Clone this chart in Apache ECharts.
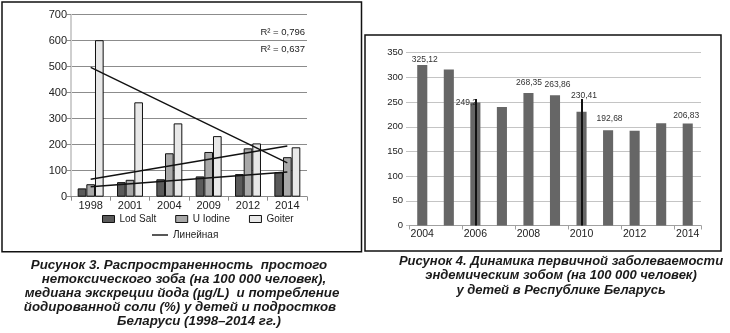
<!DOCTYPE html>
<html>
<head>
<meta charset="utf-8">
<script src="https://cdn.jsdelivr.net/npm/echarts@6/dist/echarts.min.js"></script>
<style>
  html, body { margin: 0; padding: 0; background: #fff; }
  #chart { width: 730px; height: 333px; }
</style>
</head>
<body>
<div id="chart"></div>
<script>
// Figure 3: goiter prevalence, iodine excretion and iodized salt use
const years = ['1998', '2001', '2004', '2009', '2012', '2014'];
const iodSalt = [32, 56, 67, 78, 87, 94];
const uIodine = [48, 65, 167, 172, 186, 152];
const goiter = [602, 363, 282, 233, 205, 190];
// linear trend lines: values at the first and last year
const goiterTrendEnds = [497, 130];
const iodineTrendEnds = [67, 195];
const saltTrendEnds = [38, 95];
const rSquared = ['R\u00B2 = 0,796', 'R\u00B2 = 0,637'];
const leftTicks = [0, 700, 100];

// Figure 4: primary incidence of endemic goiter in children
const incYears = ['2004', '2005', '2006', '2007', '2008', '2009', '2010', '2011', '2012', '2013', '2014'];
const incidence = [325.12, 316, 249.2, 240, 268.35, 263.86, 230.41, 192.68, 192, 207, 206.83];
const labeledYears = ['2004', '2006', '2008', '2009', '2010', '2011', '2014'];
const markerYears = ['2006', '2010'];
const markerTop = 256;
const rightTicks = [0, 350, 50];

const captionLeft = [
  'Рисунок 3. Распространенность  простого',
  'нетоксического зоба (на 100 000 человек),',
  'медиана экскреции йода (µg/L)  и потребление',
  'йодированной соли (%) у детей и подростков',
  'Беларуси (1998–2014 гг.)'
];
const captionRight = [
  'Рисунок 4. Динамика первичной заболеваемости',
  'эндемическим зобом (на 100 000 человек)',
  'у детей в Республике Беларусь'
];

// label nudges for the incidence bars (dx, dy in px)
const labelNudge = {
  '2004': [2.5, 0], '2006': [-9, 6], '2008': [0.5, -4.5], '2009': [2.5, -5],
  '2010': [2.5, -11], '2011': [1.5, -6], '2014': [-1.5, -2.5]
};

const FONT = '"Liberation Sans", Arial, sans-serif';

function trendData(ends) {
  return years.map((y, i) => i === 0 ? ends[0] : (i === years.length - 1 ? ends[1] : null));
}
function fmtComma(v) { return String(v).replace('.', ','); }

const chart = echarts.init(document.getElementById('chart'), null, { renderer: 'canvas' });

const barBorder = { borderColor: '#111', borderWidth: 1 };

const graphics = [
  { type: 'rect', shape: { x: 2, y: 2, width: 359.5, height: 249.7 }, style: { fill: 'none', stroke: '#111', lineWidth: 1.5 }, z: 100 },
  { type: 'rect', shape: { x: 365, y: 35, width: 356, height: 216 }, style: { fill: 'none', stroke: '#111', lineWidth: 1.5 }, z: 100 }
];
rSquared.forEach((t, i) => {
  graphics.push({
    type: 'text', x: 305, y: 32.5 + i * 17,
    style: { text: t, fill: '#222', font: '9.5px ' + FONT, textAlign: 'right', textVerticalAlign: 'middle' }
  });
});

const capFontLeft = 'italic bold 13.3px ' + FONT;
const capFontRight = 'italic bold 13px ' + FONT;
const capLeftX = [179, 184, 182, 180, 199];
captionLeft.forEach((t, i) => {
  graphics.push({
    type: 'text', x: capLeftX[i], y: 265 + i * 14.2,
    style: { text: t, fill: '#1a1a1a', font: capFontLeft, textAlign: 'center', textVerticalAlign: 'middle' }
  });
});
captionRight.forEach((t, i) => {
  graphics.push({
    type: 'text', x: 561, y: 261.7 + i * 14.2,
    style: { text: t, fill: '#1a1a1a', font: capFontRight, textAlign: 'center', textVerticalAlign: 'middle' }
  });
});

const option = {
  backgroundColor: '#fff',
  animation: false,
  textStyle: { fontFamily: FONT },
  grid: [
    { left: 71, top: 14.7, right: 730 - 307, bottom: 333 - 196.7 },
    { left: 409, top: 52.7, right: 730 - 701, bottom: 333 - 225.5 }
  ],
  legend: [
    {
      left: 102, top: 214, padding: 0, itemWidth: 12, itemHeight: 7, itemGap: 19,
      textStyle: { fontSize: 10, color: '#222', fontFamily: FONT },
      data: [
        { name: 'Lod Salt', icon: 'rect', itemStyle: { color: '#5a5a5a', borderColor: '#111', borderWidth: 1 } },
        { name: 'U Iodine', icon: 'rect', itemStyle: { color: '#a8a8a8', borderColor: '#111', borderWidth: 1 } },
        { name: 'Goiter', icon: 'rect', itemStyle: { color: '#e8e8e8', borderColor: '#111', borderWidth: 1 } }
      ],
      selectedMode: false
    },
    {
      left: 152, top: 230, padding: 0, itemWidth: 16, itemHeight: 1.4,
      textStyle: { fontSize: 10, color: '#222', fontFamily: FONT },
      data: [{ name: 'Линейная', icon: 'rect', itemStyle: { color: '#111', borderWidth: 0 } }],
      selectedMode: false
    }
  ],
  xAxis: [
    {
      type: 'category', gridIndex: 0, data: years,
      axisLine: { lineStyle: { color: '#8c8c8c', width: 1 } },
      axisTick: { show: true, length: 4, lineStyle: { color: '#8c8c8c' } },
      axisLabel: { fontSize: 11, color: '#222', margin: 4, fontFamily: FONT }
    },
    {
      type: 'category', gridIndex: 1, data: incYears,
      axisLine: { lineStyle: { color: '#a0a0a0', width: 1 } },
      axisTick: { show: true, length: 4, interval: 1, lineStyle: { color: '#a0a0a0' } },
      axisLabel: { fontSize: 10.5, color: '#222', margin: 3, interval: 1, fontFamily: FONT }
    }
  ],
  yAxis: [
    {
      type: 'value', gridIndex: 0, min: leftTicks[0], max: leftTicks[1], interval: leftTicks[2],
      axisLine: { show: true, lineStyle: { color: '#cfcfcf', width: 2 } },
      axisTick: { show: true, length: 4, lineStyle: { color: '#8c8c8c' } },
      splitLine: { lineStyle: { color: '#8c8c8c', width: 1 } },
      axisLabel: { fontSize: 11, color: '#222', margin: 4, fontFamily: FONT }
    },
    {
      type: 'value', gridIndex: 1, min: rightTicks[0], max: rightTicks[1], interval: rightTicks[2],
      axisLine: { show: false },
      axisTick: { show: true, length: 3, lineStyle: { color: '#c4c4c4' } },
      splitLine: { lineStyle: { color: '#c4c4c4', width: 1 } },
      axisLabel: { fontSize: 9.5, color: '#222', margin: 6, fontFamily: FONT }
    }
  ],
  series: [
    {
      name: 'Lod Salt', type: 'bar', xAxisIndex: 0, yAxisIndex: 0, data: iodSalt,
      barGap: '0%', barCategoryGap: '34%',
      itemStyle: Object.assign({ color: '#5a5a5a' }, barBorder)
    },
    {
      name: 'U Iodine', type: 'bar', xAxisIndex: 0, yAxisIndex: 0, data: uIodine,
      barGap: '0%', barCategoryGap: '34%',
      itemStyle: Object.assign({ color: '#a8a8a8' }, barBorder)
    },
    {
      name: 'Goiter', type: 'bar', xAxisIndex: 0, yAxisIndex: 0, data: goiter,
      barGap: '0%', barCategoryGap: '34%',
      itemStyle: Object.assign({ color: '#e8e8e8' }, barBorder)
    },
    {
      name: 'Линейная', type: 'line', xAxisIndex: 0, yAxisIndex: 0, data: trendData(goiterTrendEnds),
      connectNulls: true, symbol: 'none', lineStyle: { color: '#111', width: 1.4 }, itemStyle: { color: '#111' }, z: 5
    },
    {
      name: 'Линейная', type: 'line', xAxisIndex: 0, yAxisIndex: 0, data: trendData(iodineTrendEnds),
      connectNulls: true, symbol: 'none', lineStyle: { color: '#111', width: 1.4 }, itemStyle: { color: '#111' }, z: 5
    },
    {
      name: 'Линейная', type: 'line', xAxisIndex: 0, yAxisIndex: 0, data: trendData(saltTrendEnds),
      connectNulls: true, symbol: 'none', lineStyle: { color: '#111', width: 1.4 }, itemStyle: { color: '#111' }, z: 5
    },
    {
      name: 'incidence', type: 'bar', xAxisIndex: 1, yAxisIndex: 1,
      barWidth: '38%',
      itemStyle: { color: '#666666' },
      data: incidence.map((v, i) => {
        const y = incYears[i];
        const item = { value: v };
        if (labeledYears.indexOf(y) >= 0) {
          const n = labelNudge[y] || [0, 0];
          item.label = {
            show: true, position: 'top', distance: 1, offset: n,
            formatter: fmtComma(v), fontSize: 8.5, color: '#333', fontFamily: FONT
          };
        }
        return item;
      }),
      markLine: {
        silent: true, symbol: 'none', label: { show: false },
        lineStyle: { color: '#111', width: 2, type: 'solid' },
        data: markerYears.map(y => [{ coord: [y, 0] }, { coord: [y, markerTop] }])
      }
    }
  ],
  graphic: graphics
};

chart.setOption(option);
</script>
</body>
</html>
